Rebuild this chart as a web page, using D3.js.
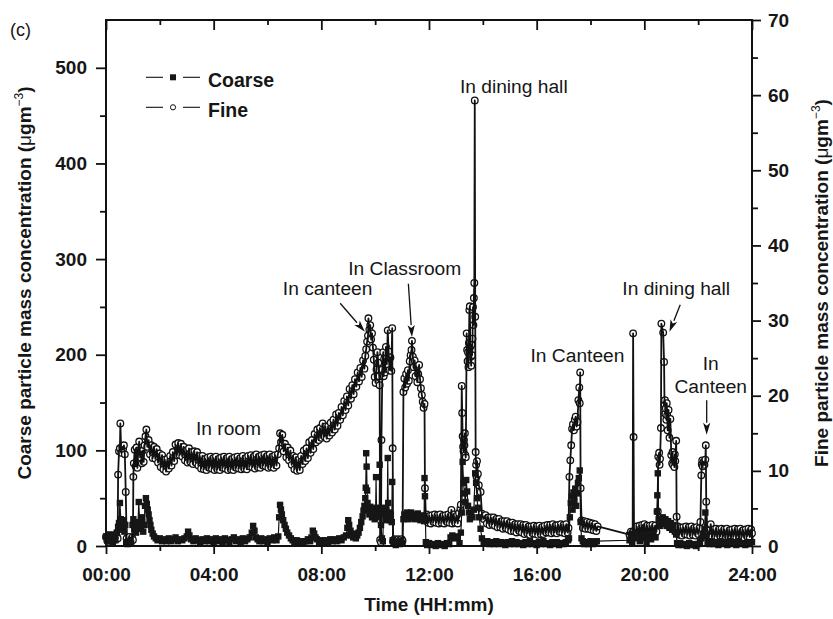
<!DOCTYPE html>
<html>
<head>
<meta charset="utf-8">
<script src="https://cdn.jsdelivr.net/npm/d3@7"></script>
<style>
  body { margin: 0; background: #fff; }
  svg text { font-family: "Liberation Sans", Arial, Helvetica, sans-serif; fill: #161616; }
</style>
</head>
<body>
<svg id="chart" width="833" height="619"></svg>
<script>
// Time axis labels (minutes are taken from the HH part)
const hourTicks = ["00:00", "04:00", "08:00", "12:00", "16:00", "20:00", "24:00"];
const coarseTicks = [0, 100, 200, 300, 400, 500];
const fineTicks = [0, 10, 20, 30, 40, 50, 60, 70];

// Fine particle mass concentration: [minute of day, µg m-3]
const fine = [
  [0,1.2],[3,0.7],[6,1.4],[9,0.8],[12,1.3],[15,0.6],[18,1.4],[21,0.9],[24,1.3],[26,1.0],[27,9.5],[29,12.6],[31,13.0],[32,16.3],[34,12.4],[36,13.2],[38,12.9],[40,13.4],[42,12.2],[44,7.2],
  [46,1.0],[49,0.6],[52,1.2],[55,0.7],[58,1.1],[60,0.8],
  [61,9.2],[62,11.0],[64,12.8],[66,10.6],[68,13.1],[70,10.4],[72,12.7],[74,13.9],[76,11.8],[78,12.6],[80,11.0],[82,12.7],[84,11.2],[86,13.4],[88,14.6],[90,15.5],[92,13.2],
  [95,14.1],[98,12.2],[101,13.4],[104,11.7],[107,13.2],[110,11.6],[113,12.9],[116,11.1],[119,12.3],[122,10.5],[125,12.1],[128,10.2],[131,11.5],[134,9.9],[137,11.6],[140,10.3],[143,12.0],
  [146,10.7],[149,12.5],[152,11.3],[155,13.5],[158,12.1],[161,13.7],[164,12.1],[167,13.6],[170,11.9],[173,13.2],[176,11.4],[179,12.7],[182,11.1],[185,13.0],[188,11.2],[191,12.5],[194,10.9],
  [197,12.6],[200,11.1],[203,12.5],[206,10.7],[209,12.0],[212,10.3],[215,12.0],[218,10.2],[221,11.6],[224,10.1],[227,11.8],[230,10.4],[233,11.9],[236,10.3],[239,11.7],[242,10.1],[245,11.9],
  [248,10.2],[251,11.6],[254,10.1],[257,11.8],[260,10.4],[263,11.9],[266,10.3],[269,11.7],[272,10.1],[275,11.9],[278,10.2],[281,11.6],[284,10.1],[287,11.8],[290,10.4],[293,11.9],[296,10.3],
  [299,11.7],[302,10.2],[305,12.0],[308,10.3],[311,11.7],[314,10.2],[317,12.0],[320,10.6],[323,12.1],[326,10.5],[329,11.9],[332,10.3],[335,12.2],[338,10.5],[341,11.9],[344,10.4],[347,12.1],
  [350,10.7],[353,12.2],[356,10.6],[359,12.0],[362,10.4],[365,12.2],[368,10.5],[371,11.9],[374,10.4],[377,12.1],[380,10.7],[383,12.2],
  [386,13.0],[388,15.0],[390,13.8],[393,14.8],[396,12.6],[399,13.6],[402,11.8],[405,13.1],[408,11.4],[411,12.7],[414,10.8],[417,12.0],[420,10.2],[423,11.8],[426,10.0],[429,11.5],[432,10.1],
  [435,12.0],[438,10.9],[441,12.7],[444,11.3],[447,13.0],[450,11.7],[453,13.8],[456,12.4],[459,14.1],[462,12.9],[465,14.9],[468,13.8],[471,15.5],[474,14.1],[477,15.7],[480,14.4],[483,16.3],
  [486,14.6],[489,15.9],[492,14.3],[495,15.9],[498,14.7],[501,16.4],[504,15.1],[507,16.8],[510,15.5],[513,17.5],[516,16.0],[519,17.7],[522,16.8],[525,18.5],[528,17.4],[531,19.3],[534,18.1],
  [537,19.9],[540,18.7],[543,20.9],[546,19.6],[549,21.4],[552,20.2],[555,22.2],[558,21.2],[561,23.1],[564,21.9],[567,23.7],[570,22.5],[573,24.7],[576,23.6],[578,25.3],[580,26.2],
  [582,27.2],[584,28.0],[585,30.3],[587,28.8],[589,29.4],[591,27.5],[593,28.3],[595,26.4],[597,24.8],[599,22.5],[601,21.7],[603,23.5],[605,25.8],[607,24.4],[609,22.6],[610,21.4],[611,0.8],
  [613,0.5],[614,14.1],[616,23.5],[618,25.8],[619,22.6],[620,24.9],[622,23.1],[624,26.5],[626,24.2],[628,28.7],[630,25.9],[632,23.4],[634,25.1],[636,23.3],[638,29.0],[639,13.0],[640,0.6],
  [643,0.9],[645,0.5],[647,0.8],[649,0.6],[651,0.9],[653,0.5],[655,0.8],[657,0.6],[659,0.9],[661,0.7],[663,20.5],[665,22.3],[667,21.1],[669,22.9],[671,21.6],[673,23.4],[675,22.0],[677,24.6],
  [679,25.4],[681,26.1],[682,27.3],[684,25.2],[686,23.8],[688,24.7],[690,22.6],[692,23.9],[694,21.8],[696,22.9],[698,24.1],[700,22.2],[702,21.0],[704,20.1],[706,19.2],[708,18.4],[710,18.9],
  [711,7.7],[713,3.9],[715,4.2],[718,3.1],[721,4.0],[724,3.0],[727,4.1],[730,3.2],[733,4.2],[736,3.1],[739,4.1],[742,3.0],[745,4.2],[748,3.1],[751,4.0],[754,3.0],[757,4.1],[760,3.2],[763,4.2],
  [766,3.1],[769,4.1],[770,4.8],[772,3.0],[775,4.2],[778,3.1],[781,4.0],[784,3.0],[787,4.4],[790,5.0],[791,5.5],
  [793,21.3],[794,17.7],[795,14.6],[796,13.2],[797,12.6],[798,14.1],[799,13.4],[800,15.0],[801,12.1],[802,11.8],[804,28.3],[805,26.1],[806,24.6],[807,25.8],[808,23.8],[809,27.0],[810,31.4],
  [811,31.9],[812,26.5],[813,25.2],[814,24.0],[815,26.8],[816,25.4],[817,27.6],[818,31.8],[819,29.4],[820,33.0],[821,35.0],[822,59.3],[823,30.5],[824,12.5],[825,10.8],[826,9.2],[827,11.3],
  [829,9.6],[831,8.1],[835,7.2],[838,4.3],[842,3.6],
  [846,4.1],[849,3.0],[852,3.8],[855,2.8],[858,3.8],[861,2.9],[864,3.8],[867,2.7],[870,3.6],[873,2.5],[876,3.6],[879,2.5],[882,3.3],[885,2.3],[888,3.3],[891,2.4],[894,3.3],[897,2.2],[900,3.1],
  [903,2.0],[906,3.1],[909,2.0],[912,2.9],[915,1.8],[918,2.9],[921,2.0],[924,2.9],[927,1.8],[930,2.8],[933,1.6],[936,2.8],[939,1.7],[942,2.6],[945,1.5],[948,2.6],[951,1.7],[954,2.7],[957,1.6],
  [960,2.6],[963,1.5],[966,2.7],[969,1.6],[972,2.5],[975,1.6],[978,2.7],[981,1.8],[984,2.8],[987,1.8],[990,2.8],[993,1.7],[996,2.9],[999,1.8],[1002,2.7],[1005,1.7],[1008,2.8],[1011,1.9],
  [1014,2.9],[1017,1.8],[1020,2.8],[1023,1.7],[1026,2.9],[1029,1.8],[1031,2.4],
  [1033,9.2],[1035,11.4],[1037,13.4],[1039,15.6],[1041,16.2],[1043,15.4],[1045,16.8],[1047,17.2],[1049,15.9],[1051,16.5],[1053,19.4],[1055,21.1],[1056,19.0],[1057,23.1],[1058,7.7],
  [1060,3.4],[1063,2.4],[1066,3.3],[1069,2.3],[1072,3.2],[1075,2.3],[1078,3.1],[1081,2.2],[1084,3.0],[1087,2.1],[1090,2.9],[1093,2.0],[1096,2.6],
  [1167,1.5],[1170,1.9],[1172,1.6],[1174,1.8],[1175,28.3],[1176,14.5],[1177,2.0],[1180,1.5],[1183,2.6],[1186,1.5],[1189,2.7],[1192,1.6],[1195,2.8],[1198,1.7],[1200,2.9],[1203,1.6],[1206,2.7],
  [1209,1.6],[1212,2.7],[1215,1.6],[1218,2.8],[1221,1.7],[1224,2.7],[1227,1.9],
  [1230,4.6],[1231,11.9],[1233,12.4],[1234,10.8],[1235,11.6],[1237,15.7],[1238,29.6],[1242,28.4],[1244,24.5],[1245,18.9],[1246,19.4],[1247,17.6],[1248,18.3],[1249,16.8],[1250,19.0],[1251,17.4],
  [1252,15.4],[1254,18.1],[1256,14.4],[1258,16.9],[1260,12.1],[1262,11.0],[1263,12.5],[1264,10.8],[1265,11.6],[1267,10.5],[1268,12.2],[1269,11.3],[1271,14.0],[1272,3.9],
  [1275,2.6],[1278,1.5],[1281,2.4],[1284,1.4],[1287,2.5],[1290,1.6],[1293,2.6],[1296,1.5],[1299,2.5],[1302,1.4],[1305,2.6],[1308,1.5],[1311,2.4],[1314,1.4],[1317,2.5],[1320,1.6],[1323,2.4],
  [1325,3.2],[1327,9.4],[1328,10.9],[1329,11.4],[1330,10.6],[1332,11.2],[1334,10.8],[1336,11.5],[1337,13.4],[1338,5.9],
  [1340,2.4],[1343,1.2],[1346,2.1],[1348,2.9],[1351,1.2],[1354,2.2],[1357,1.3],[1360,2.3],[1363,1.2],[1366,2.2],[1369,1.3],[1372,2.3],[1375,1.2],[1378,2.2],[1381,1.1],[1384,2.3],[1387,1.2],
  [1390,2.1],[1393,1.1],[1396,2.2],[1399,1.3],[1402,2.3],[1405,1.2],[1408,2.2],[1411,1.1],[1414,2.3],[1417,1.2],[1420,2.1],[1423,1.1],[1426,2.2],[1429,1.3],[1432,2.3],[1435,1.2],[1438,2.2],
  [1440,1.7]
];

// Coarse particle mass concentration: [minute of day, µg m-3]
const coarse = [
  [0,10],[3,6],[6,12],[9,5],[12,11],[15,4],[18,12],[21,6],[24,14],[27,20],[29,24],[31,45],[33,28],[35,17],[37,25],[39,27],[41,15],[43,22],[45,4],[48,2],[52,5],[56,3],[59,22],[61,28],[63,18],
  [65,25],[67,14],[69,22],[71,19],[73,46],[75,24],[77,18],[79,30],[81,26],[83,15],[85,22],[87,42],[89,50],[91,44],[93,38],[95,33],[97,27],[99,22],[101,17],[104,13],[107,10],[111,8],[115,6],
  [120,8],[125,5],[130,7],[135,5],[140,8],[145,5],[150,7],[155,9],[160,5],[165,7],[170,6],[175,8],[180,10],[183,15],[186,11],[190,7],[195,5],[200,8],[205,6],[210,4],[215,7],[220,5],[225,8],
  [230,5],[235,7],[240,4],[245,8],[250,5],[255,7],[260,4],[265,8],[270,6],[275,4],[280,7],[285,9],[290,5],[295,7],[300,4],[305,8],[310,5],[315,7],[320,9],[325,14],[328,21],[331,16],[334,9],
  [338,7],[342,5],[346,8],[350,5],[355,7],[360,4],[365,8],[370,6],[375,9],[380,6],[384,10],[386,30],[388,43],[390,38],[392,33],[395,27],[398,22],[401,18],[404,14],[408,11],[412,8],[416,6],
  [420,4],[425,6],[430,3],[435,5],[440,3],[445,5],[450,7],[455,5],[458,9],[461,16],[464,13],[467,9],[470,7],[475,4],[480,6],[485,4],[490,6],[495,4],[500,7],[505,5],[510,7],[515,5],[520,8],
  [525,6],[530,9],[535,11],[538,19],[540,27],[542,22],[545,16],[548,11],[551,9],[554,13],[557,8],[560,11],[563,14],[566,19],[569,25],[572,31],[574,37],[576,42],[578,50],[579,61],[580,97],
  [581,83],[582,58],[583,45],[585,38],[587,33],[589,41],[591,35],[593,30],[595,39],[597,32],[599,28],[601,36],[602,72],[603,40],[605,31],[607,37],[609,30],[610,85],[611,34],[613,22],[615,8],
  [617,5],[619,40],[621,33],[623,27],[625,38],[627,30],[628,92],[629,45],[631,35],[633,27],[635,33],[637,25],[638,67],[639,6],[642,3],[646,1],[650,4],[654,2],[658,5],[661,3],[663,28],[665,33],
  [668,29],[671,35],[674,28],[677,32],[680,35],[683,29],[686,33],[689,28],[692,31],[695,34],[698,29],[701,27],[704,32],[707,28],[709,26],[710,71],[711,52],[713,4],[716,1],[720,3],[725,1],
  [730,2],[735,0],[740,3],[745,1],[750,2],[755,0],[760,3],[765,2],[768,9],[772,11],[776,8],[780,10],[784,9],[788,3],[791,14],[793,35],[795,88],[797,66],[799,55],[801,46],[803,69],[805,57],
  [807,42],[809,35],[811,28],[814,34],[817,30],[820,38],[823,76],[825,66],[827,50],[829,40],[832,30],[835,18],[838,8],[842,4],[845,3],[850,5],[855,2],[860,4],[865,2],[870,5],[875,2],[880,4],
  [885,3],[890,1],[895,4],[900,2],[905,5],[910,2],[915,4],[920,2],[925,3],[930,1],[935,4],[940,2],[945,5],[950,2],[955,3],[960,1],[965,4],[970,2],[975,5],[980,2],[985,3],[990,1],[995,4],
  [1000,2],[1005,4],[1010,1],[1015,3],[1020,2],[1025,4],[1030,6],[1032,8],[1034,30],[1036,45],[1038,52],[1040,38],[1042,56],[1044,47],[1046,60],[1048,42],[1050,55],[1052,66],[1054,71],
  [1056,79],[1058,25],[1060,8],[1063,5],[1066,2],[1070,4],[1075,2],[1080,5],[1085,2],[1090,4],[1094,5],[1167,6],[1170,9],[1173,4],[1175,12],[1177,8],[1180,14],[1185,9],[1190,5],[1195,12],
  [1200,8],[1205,4],[1210,11],[1215,7],[1220,13],[1225,9],[1228,36],[1229,53],[1230,76],[1232,28],[1235,21],[1238,26],[1241,30],[1244,23],[1247,28],[1250,21],[1253,26],[1256,19],[1259,24],
  [1262,17],[1265,22],[1268,15],[1271,12],[1273,3],[1276,1],[1280,3],[1285,1],[1290,2],[1295,0],[1300,3],[1305,1],[1310,2],[1315,0],[1320,2],[1324,4],[1327,8],[1330,12],[1334,18],[1336,35],
  [1338,10],[1341,4],[1345,2],[1350,5],[1355,2],[1360,4],[1365,1],[1370,5],[1375,2],[1380,4],[1385,1],[1390,5],[1395,2],[1400,4],[1405,1],[1410,5],[1415,2],[1420,3],[1425,1],[1430,4],
  [1435,2],[1440,4]
];

// Location notes, placed in (minute, fine-axis value) coordinates
const notes = [
  { lines: ["In room"], at: [273, 14.8] },
  { lines: ["In canteen"], at: [494, 33.4], arrow: [[522, 32.3], [577, 28.5]] },
  { lines: ["In Classroom"], at: [666, 36.1], arrow: [[674, 34.9], [682, 27.8]] },
  { lines: ["In dining hall"], at: [909, 60.25] },
  { lines: ["In Canteen"], at: [1051, 24.5] },
  { lines: ["In dining hall"], at: [1271, 33.4], arrow: [[1280, 32.1], [1256, 28.5]] },
  { lines: ["In", "Canteen"], at: [1348, 23.4], arrow: [[1339, 19.4], [1339, 14.8]] }
];

const legendItems = [
  { label: "Coarse", symbol: "square" },
  { label: "Fine", symbol: "circle" }
];

(function draw() {
  const svg = d3.select("#chart");
  const mLeft = 106, mRight = 752, mTop = 20, mBottom = 546;

  const x = d3.scaleLinear().domain([0, 1440]).range([mLeft, mRight]);
  const yC = d3.scaleLinear().domain([0, 550]).range([mBottom, mTop]);
  const yF = d3.scaleLinear().domain([0, 70]).range([mBottom, mTop]);

  const tickMinutes = hourTicks.map(s => +s.slice(0, 2) * 60);
  const minorMinutes = d3.range(120, 1440, 240);

  function styleAxis(g) {
    g.select(".domain").remove();
    g.selectAll(".tick line").attr("stroke", "#111").attr("stroke-width", 1.8);
    g.selectAll(".tick text")
      .attr("font-family", '"Liberation Sans", Arial, sans-serif')
      .attr("font-weight", "bold")
      .attr("font-size", 19)
      .attr("fill", "#161616");
  }

  // ---- data series ----
  const plot = svg.append("g");
  const fineLine = d3.line().x(d => x(d[0])).y(d => yF(d[1]));
  const coarseLine = d3.line().x(d => x(d[0])).y(d => yC(d[1]));

  // fine: open circles, with the trace drawn over them
  plot.append("g").selectAll("circle").data(fine).join("circle")
    .attr("cx", d => x(d[0])).attr("cy", d => yF(d[1])).attr("r", 3.3)
    .attr("fill", "#fff").attr("stroke", "#111").attr("stroke-width", 1.3);
  plot.append("path").datum(fine)
    .attr("d", fineLine).attr("fill", "none").attr("stroke", "#111").attr("stroke-width", 1.8)
    .attr("stroke-linejoin", "round");

  // coarse: filled squares
  plot.append("path").datum(coarse)
    .attr("d", coarseLine).attr("fill", "none").attr("stroke", "#111").attr("stroke-width", 1.2);
  plot.append("g").selectAll("rect").data(coarse).join("rect")
    .attr("x", d => x(d[0]) - 3.2).attr("y", d => yC(d[1]) - 3.2)
    .attr("width", 6.4).attr("height", 6.4).attr("fill", "#161616");

  // ---- frame and axes ----
  svg.append("rect").attr("x", mLeft).attr("y", mTop).attr("width", mRight - mLeft).attr("height", mBottom - mTop)
    .attr("fill", "none").attr("stroke", "#111").attr("stroke-width", 2);

  svg.append("g").attr("transform", `translate(0,${mBottom})`)
    .call(d3.axisBottom(x).tickValues(tickMinutes).tickFormat((d, i) => hourTicks[i]).tickSize(8).tickPadding(14))
    .call(styleAxis);
  svg.append("g").attr("transform", `translate(0,${mBottom})`)
    .call(d3.axisBottom(x).tickValues(minorMinutes).tickFormat("").tickSize(5))
    .call(styleAxis);

  svg.append("g").attr("transform", `translate(0,${mTop})`)
    .call(d3.axisBottom(x).tickValues(tickMinutes).tickFormat("").tickSize(10))
    .call(styleAxis);
  svg.append("g").attr("transform", `translate(0,${mTop})`)
    .call(d3.axisBottom(x).tickValues(minorMinutes).tickFormat("").tickSize(5))
    .call(styleAxis);

  svg.append("g").attr("transform", `translate(${mLeft},0)`)
    .call(d3.axisLeft(yC).tickValues(coarseTicks).tickFormat(d3.format("d")).tickSize(10).tickPadding(9))
    .call(styleAxis);
  svg.append("g").attr("transform", `translate(${mLeft},0)`)
    .call(d3.axisLeft(yC).tickValues(d3.range(50, 550, 100)).tickFormat("").tickSize(6))
    .call(styleAxis);

  svg.append("g").attr("transform", `translate(${mRight},0)`)
    .call(d3.axisRight(yF).tickValues(fineTicks).tickFormat(d3.format("d")).tickSize(9).tickPadding(7))
    .call(styleAxis);
  svg.append("g").attr("transform", `translate(${mRight},0)`)
    .call(d3.axisRight(yF).tickValues(d3.range(5, 70, 10)).tickFormat("").tickSize(6))
    .call(styleAxis);

  // ---- axis titles ----
  svg.append("text").attr("x", (mLeft + mRight) / 2).attr("y", 611)
    .attr("text-anchor", "middle").attr("font-weight", "bold").attr("font-size", 19)
    .text("Time (HH:mm)");

  function unitTitle(cx, name) {
    const t = svg.append("text")
      .attr("transform", `translate(${cx},${(mTop + mBottom) / 2}) rotate(-90)`)
      .attr("text-anchor", "middle").attr("font-weight", "bold").attr("font-size", 19);
    t.append("tspan").text(name + " (");
    t.append("tspan").attr("font-weight", "normal").text("\u03bc");
    t.append("tspan").text("gm");
    t.append("tspan").attr("font-size", 12).attr("font-weight", "normal").attr("dy", -8).text("\u22123");
    t.append("tspan").attr("dy", 8).text(")");
  }
  unitTitle(31, "Coarse particle mass concentration");
  unitTitle(828, "Fine particle mass concentration");

  svg.append("text").attr("x", 10).attr("y", 36).attr("font-size", 18).text("(c)");

  // ---- legend ----
  legendItems.forEach((item, i) => {
    const cy = 77.3 + i * 30;
    const g = svg.append("g");
    g.append("line").attr("x1", 146).attr("x2", 163).attr("y1", cy).attr("y2", cy).attr("stroke", "#111").attr("stroke-width", 1.1);
    g.append("line").attr("x1", 183).attr("x2", 200).attr("y1", cy).attr("y2", cy).attr("stroke", "#111").attr("stroke-width", 1.1);
    if (item.symbol === "square") {
      g.append("rect").attr("x", 170).attr("y", cy - 3).attr("width", 6).attr("height", 6).attr("fill", "#161616");
    } else {
      g.append("circle").attr("cx", 173).attr("cy", cy).attr("r", 2.6).attr("fill", "#fff").attr("stroke", "#111").attr("stroke-width", 1);
    }
    g.append("text").attr("x", 208).attr("y", cy + 10).attr("font-weight", "bold").attr("font-size", 19.5).text(item.label);
  });

  // ---- location notes ----
  const noteLayer = svg.append("g");
  notes.forEach(n => {
    const tx = x(n.at[0]), ty = yF(n.at[1]);
    n.lines.forEach((line, i) => {
      noteLayer.append("text").attr("x", tx).attr("y", ty + i * 23.3)
        .attr("text-anchor", "middle").attr("font-size", 19.2).text(line);
    });
    if (n.arrow) {
      const [p, q] = n.arrow;
      const x0 = x(p[0]), y0 = yF(p[1]), x1 = x(q[0]), y1 = yF(q[1]);
      const len = Math.hypot(x1 - x0, y1 - y0);
      const ux = (x1 - x0) / len, uy = (y1 - y0) / len;
      const head = 12, half = 3.6;
      const bx = x1 - ux * head, by = y1 - uy * head;
      noteLayer.append("line").attr("x1", x0).attr("y1", y0).attr("x2", bx).attr("y2", by)
        .attr("stroke", "#111").attr("stroke-width", 1.3);
      noteLayer.append("path")
        .attr("d", `M${x1},${y1}L${bx - uy * half},${by + ux * half}L${bx + ux * 3},${by + uy * 3}L${bx + uy * half},${by - ux * half}Z`)
        .attr("fill", "#111");
    }
  });
})();
</script>
</body>
</html>
